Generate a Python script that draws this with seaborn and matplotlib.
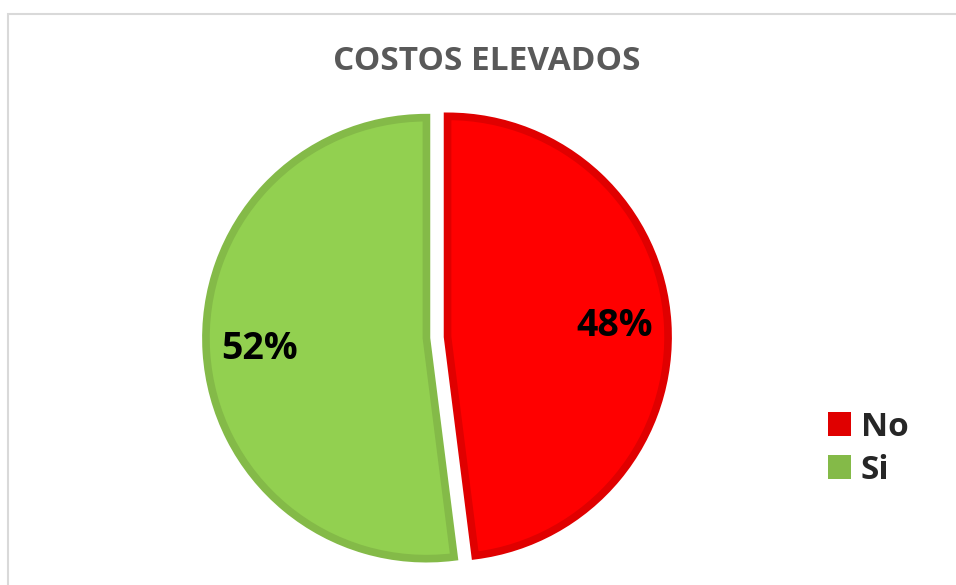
import matplotlib.pyplot as plt
import seaborn as sns
from matplotlib.patches import Patch, Rectangle

# Data
labels = ['No', 'Si']
values = [48, 52]
fill_colors = ['#FF0000', '#92D050']
edge_colors = ['#E00000', '#84BA48']
title = 'COSTOS ELEVADOS'

sns.set_style('white')
plt.rcParams['font.family'] = ['Open Sans', 'DejaVu Sans']

W, H = 956, 585
fig = plt.figure(figsize=(W / 100, H / 100), dpi=100)

# pie axes: square, centred on the pie centre
cx, cy, r = 437, 585 - 337.5, 220.5
ax = fig.add_axes([(cx - r) / W, (cy - r) / H, 2 * r / W, 2 * r / H])

wedges, texts, autotexts = ax.pie(
    values,
    colors=fill_colors,
    startangle=90,
    counterclock=False,
    explode=[0.048, 0.048],
    autopct='%1.0f%%',
    pctdistance=0.76,
    wedgeprops=dict(linewidth=5.5, joinstyle='miter'),
    textprops=dict(fontsize=27, fontweight='bold', color='black'),
)
for w, ec in zip(wedges, edge_colors):
    w.set_edgecolor(ec)
    w.set_clip_on(False)
ax.set_xlim(-1, 1)
ax.set_ylim(-1, 1)
ax.set_aspect('equal')

# title
fig.text(486.5 / W, 1 - 69.5 / H, title, ha='center', va='baseline',
         fontsize=24, fontweight='bold', color='#595959')

# legend
handles = [Patch(facecolor=c, edgecolor='none') for c in edge_colors]
fig.legend(handles, labels, loc='upper left', bbox_to_anchor=(811 / W, 1 - 394 / H),
           frameon=False, prop=dict(weight='bold', size=24),
           handlelength=0.7, handleheight=0.7, handletextpad=0.3,
           labelspacing=0.3, borderpad=0)

# chart area frame
fig.add_artist(Rectangle((7.5 / W, -0.2), 1.2, (H - 14) / H + 0.2, transform=fig.transFigure,
                         fill=False, edgecolor='#D9D9D9', linewidth=1.5))

fig.savefig('out.png', dpi=100)
